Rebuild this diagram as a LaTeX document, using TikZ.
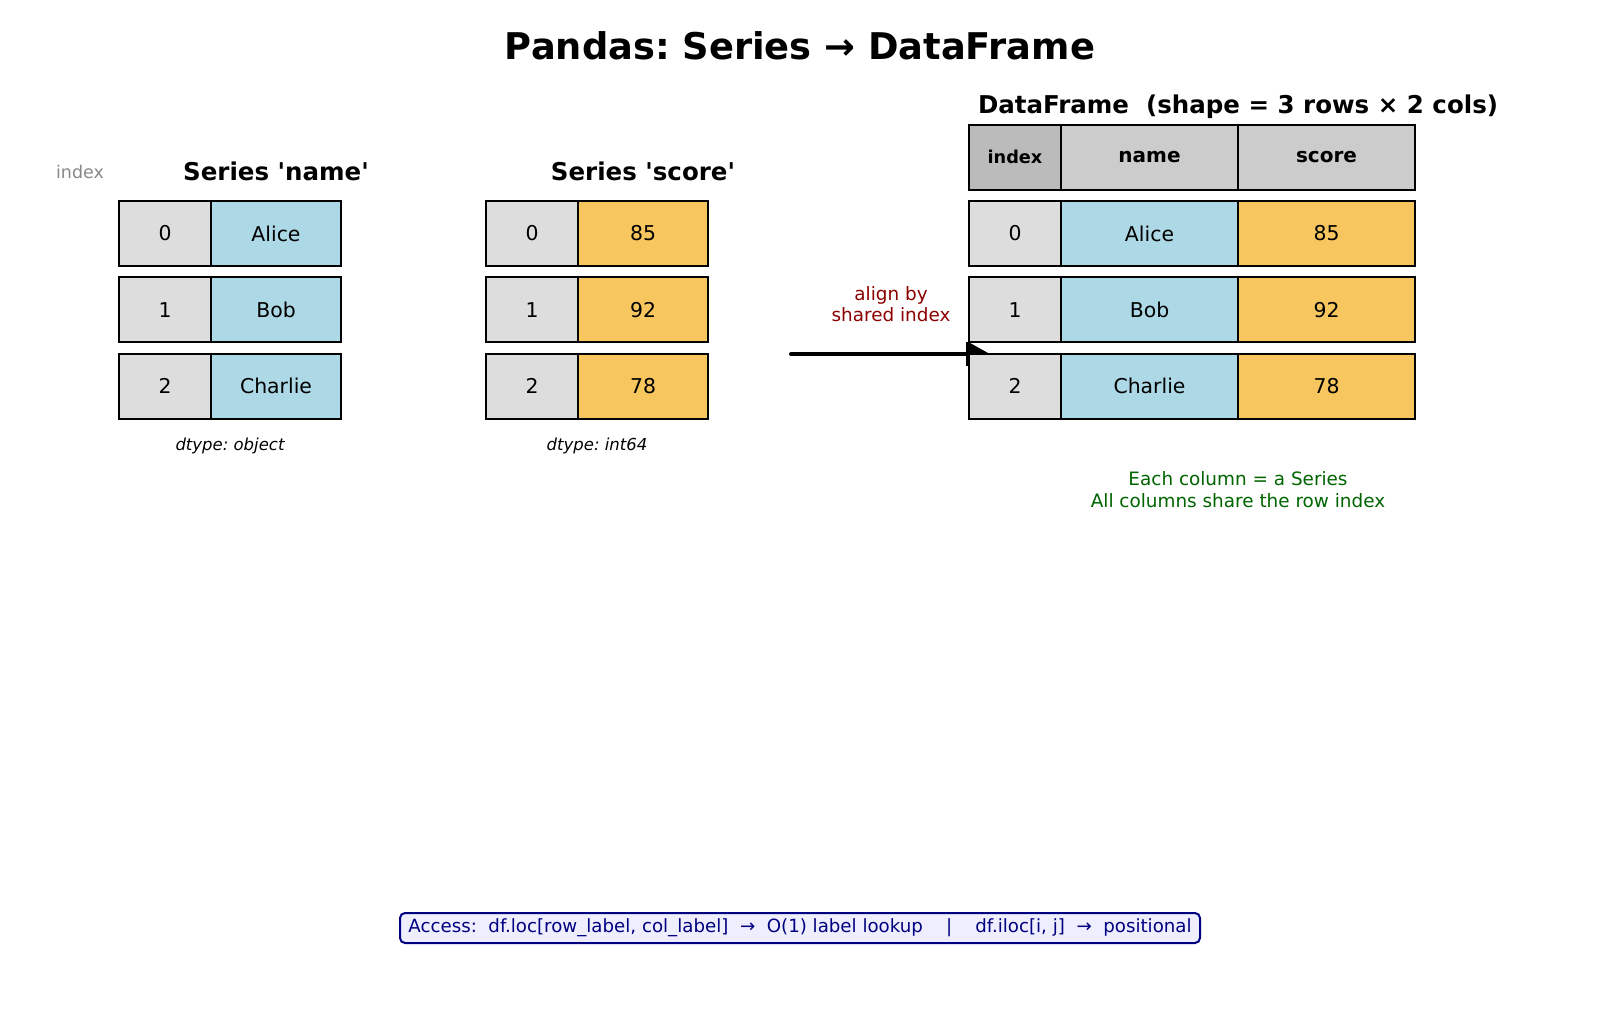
\documentclass[tikz,border=0pt]{standalone}
\usepackage{fontspec}
\setmainfont{DejaVu Sans}[Ligatures=TeXOff]
\usetikzlibrary{arrows.meta}
\definecolor{idxgray}{HTML}{DDDDDD}
\definecolor{hdrgray}{HTML}{CCCCCC}
\definecolor{hdridx}{HTML}{BBBBBB}
\definecolor{lblue}{HTML}{ADD8E6}
\definecolor{lorange}{HTML}{F7C65E}
\definecolor{dred}{HTML}{8B0000}
\definecolor{dgreen}{HTML}{006400}
\definecolor{navyc}{HTML}{000080}
\definecolor{boxfill}{HTML}{EEEEFF}
\newcommand{\fsz}[1]{\fontsize{#1pt}{1.19\dimexpr #1pt\relax}\selectfont}
\frenchspacing
\begin{document}
\frenchspacing
\begin{tikzpicture}[x=1pt,y=-1pt,
  cell/.style={draw=black, line width=2pt, minimum height=65pt, inner sep=0pt, outer sep=0pt, font=\fsz{20.4}, text=black},
  idxcell/.style={cell, fill=idxgray, minimum width=92pt},
  namecell/.style={cell, fill=lblue, minimum width=130pt},
  scorecell/.style={cell, fill=lorange, minimum width=130pt},
  dfname/.style={cell, fill=lblue, minimum width=177pt},
  dfscore/.style={cell, fill=lorange, minimum width=177pt},
  hdrcell/.style={cell, fill=hdrgray, minimum width=177pt, font=\fsz{20}\bfseries},
  hdridxcell/.style={cell, fill=hdridx, minimum width=92pt, font=\fsz{17.7}\bfseries},
  sertitle/.style={font=\fsz{24.5}\bfseries, inner sep=0pt},
  dtypelbl/.style={font=\fsz{16.5}\itshape, inner sep=0pt},
  note/.style={font=\fontsize{18.4pt}{21.4pt}\selectfont, align=center, inner sep=0pt}
]
\useasboundingbox (0,0) rectangle (1600,1013);

% title
\node[font=\fsz{36.8}\bfseries, inner sep=0pt] (title) at (800,46) {Pandas: Series → DataFrame};

% arrow (drawn first, partly covered by the table)
\coordinate (arrS) at (791,354);
\coordinate (arrE) at (990,354);
\coordinate (arrB) at (968,354);
\draw[line width=4pt, line cap=round, -{Triangle[length=20pt,width=21pt]}] (arrS) -- (arrE);
\draw[line width=3.5pt] ([yshift=-12pt]arrB) -- ([yshift=12pt]arrB);
\node[note, text=dred] (alignlbl) at (891,304) {align by\\shared index};

% Series 'name'
\node[font=\fsz{17.5}, text=black!47, inner sep=0pt] (idxlbl) at (80,172) {index};
\node[sertitle] (ntitle) at (276,171) {Series 'name'};
\node[idxcell] (n0i) at (165,233.5) {0};
\node[namecell] (n0v) at (276,233.5) {Alice};
\node[idxcell] (n1i) at (165,309.8) {1};
\node[namecell] (n1v) at (276,309.8) {Bob};
\node[idxcell] (n2i) at (165,386.1) {2};
\node[namecell] (n2v) at (276,386.1) {Charlie};
\node[dtypelbl] (ndtype) at (230,446) {dtype: object};

% Series 'score'
\node[sertitle] (stitle) at (643,171) {Series 'score'};
\node[idxcell] (s0i) at (532,233.5) {0};
\node[scorecell] (s0v) at (643,233.5) {85};
\node[idxcell] (s1i) at (532,309.8) {1};
\node[scorecell] (s1v) at (643,309.8) {92};
\node[idxcell] (s2i) at (532,386.1) {2};
\node[scorecell] (s2v) at (643,386.1) {78};
\node[dtypelbl] (sdtype) at (597,446) {dtype: int64};

% DataFrame
\node[font=\fsz{24.5}\bfseries, inner sep=0pt] (dftitle) at (1238,107) {DataFrame~ (shape = 3 rows × 2 cols)};
\node[hdridxcell] (hi) at (1015,157.2) {index};
\node[hdrcell] (hn) at (1149.5,157.2) {name};
\node[hdrcell] (hs) at (1326.5,157.2) {score};
\node[idxcell] (d0i) at (1015,233.5) {0};
\node[dfname] (d0n) at (1149.5,233.5) {Alice};
\node[dfscore] (d0s) at (1326.5,233.5) {85};
\node[idxcell] (d1i) at (1015,309.8) {1};
\node[dfname] (d1n) at (1149.5,309.8) {Bob};
\node[dfscore] (d1s) at (1326.5,309.8) {92};
\node[idxcell] (d2i) at (1015,386.1) {2};
\node[dfname] (d2n) at (1149.5,386.1) {Charlie};
\node[dfscore] (d2s) at (1326.5,386.1) {78};
\node[note, text=dgreen] (dfnote) at (1238,489.5) {Each column = a Series\\All columns share the row index};

% access box
\node[draw=navyc, fill=boxfill, line width=2pt, rounded corners=5pt, text=navyc, font=\fsz{18.2}, minimum width=800pt, minimum height=30pt, inner sep=0pt] (access) at (800,928)
  {Access:~ df.loc[row\_label, col\_label]~ →~ O(1) label lookup~~~ |~~~ df.iloc[i, j]~ →~ positional};
\end{tikzpicture}
\end{document}
